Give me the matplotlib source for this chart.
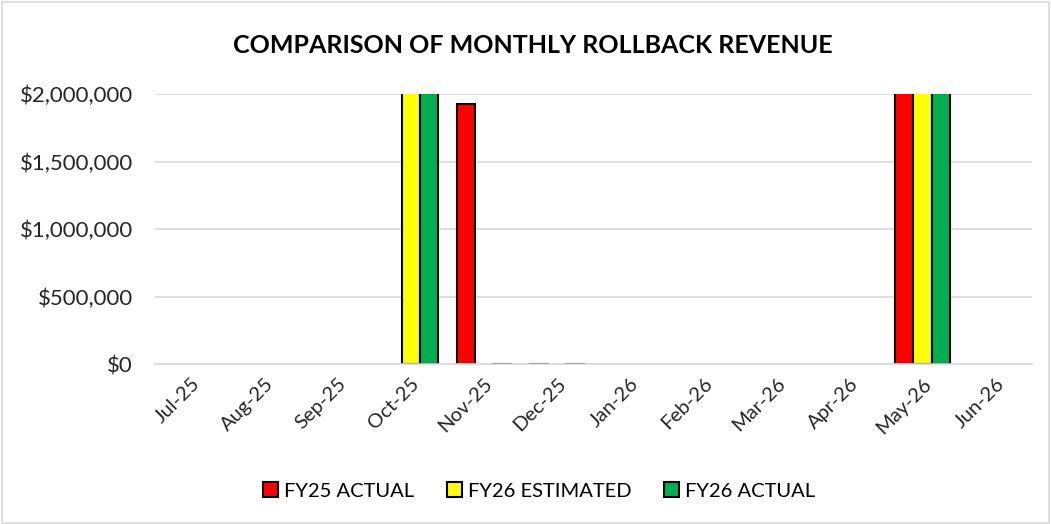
import numpy as np
import matplotlib.pyplot as plt
from matplotlib.patches import Rectangle
from matplotlib.ticker import FuncFormatter

plt.rcParams['font.family'] = ['Lato', 'DejaVu Sans']

# Datos
months = ["Jul-25", "Aug-25", "Sep-25", "Oct-25", "Nov-25", "Dec-25",
          "Jan-26", "Feb-26", "Mar-26", "Apr-26", "May-26", "Jun-26"]
fy25_actual = [np.nan, np.nan, np.nan, np.nan, 1925000, 0,
               np.nan, np.nan, np.nan, np.nan, 2600000, np.nan]
fy26_estimated = [np.nan, np.nan, np.nan, 2600000, np.nan, np.nan,
                  np.nan, np.nan, np.nan, np.nan, 2600000, np.nan]
fy26_actual = [np.nan, np.nan, np.nan, 2600000, 0, 0,
               np.nan, np.nan, np.nan, np.nan, 2600000, np.nan]

series = [("FY25 ACTUAL", fy25_actual, "#ff0000"),
          ("FY26 ESTIMATED", fy26_estimated, "#ffff00"),
          ("FY26 ACTUAL", fy26_actual, "#00b050")]

fig = plt.figure(figsize=(10.51, 5.24), dpi=100)
fig.patches.append(Rectangle((0.002, 0.002), 0.996, 0.994, transform=fig.transFigure,
                             fill=False, edgecolor="#d9d9d9", linewidth=1.2))
ax = fig.add_axes([0.1475, 0.3053, 0.8345, 0.5153])

x = np.arange(len(months))
w = 0.25
for i, (name, vals, col) in enumerate(series):
    vals = np.array(vals, dtype=float)
    pos = x + (i - 1) * w
    ax.bar(pos, vals, width=w, color=col, edgecolor="black", linewidth=1.5, label=name)
    # valores en cero se ven como una rayita gris
    zeros = np.where(vals == 0)[0]
    for z in zeros:
        ax.plot([pos[z] - w / 2, pos[z] + w / 2], [0, 0], color="#a6a6a6", lw=1.5, zorder=3)

ax.set_ylim(0, 2000000)
ax.set_xlim(-0.5, len(months) - 0.5)
ax.set_yticks(np.arange(0, 2000001, 500000))
ax.yaxis.set_major_formatter(FuncFormatter(lambda v, p: "${:,.0f}".format(v)))
ax.set_xticks(x)
ax.set_xticklabels(months, rotation=45, ha="right", rotation_mode="anchor")
ax.tick_params(axis="both", length=0, colors="#262626")
ax.tick_params(axis="y", pad=16, labelsize=16)
ax.tick_params(axis="x", pad=8, labelsize=14.5)
ax.grid(axis="y", color="#d9d9d9", linewidth=1.2)
ax.set_axisbelow(True)
for s in ["top", "right", "left"]:
    ax.spines[s].set_visible(False)
ax.spines["bottom"].set_color("#d9d9d9")
ax.spines["bottom"].set_linewidth(1.2)

fig.text(0.507, 0.914, "COMPARISON OF MONTHLY ROLLBACK REVENUE", ha="center", va="center",
         fontsize=18, fontweight="bold", color="black")

fig.legend(loc="center", bbox_to_anchor=(0.513, 0.063), ncol=3, frameon=False,
           fontsize=14.5, handlelength=0.75, handleheight=0.75, handletextpad=0.3,
           columnspacing=1.6)

plt.savefig("out.png", dpi=100)
